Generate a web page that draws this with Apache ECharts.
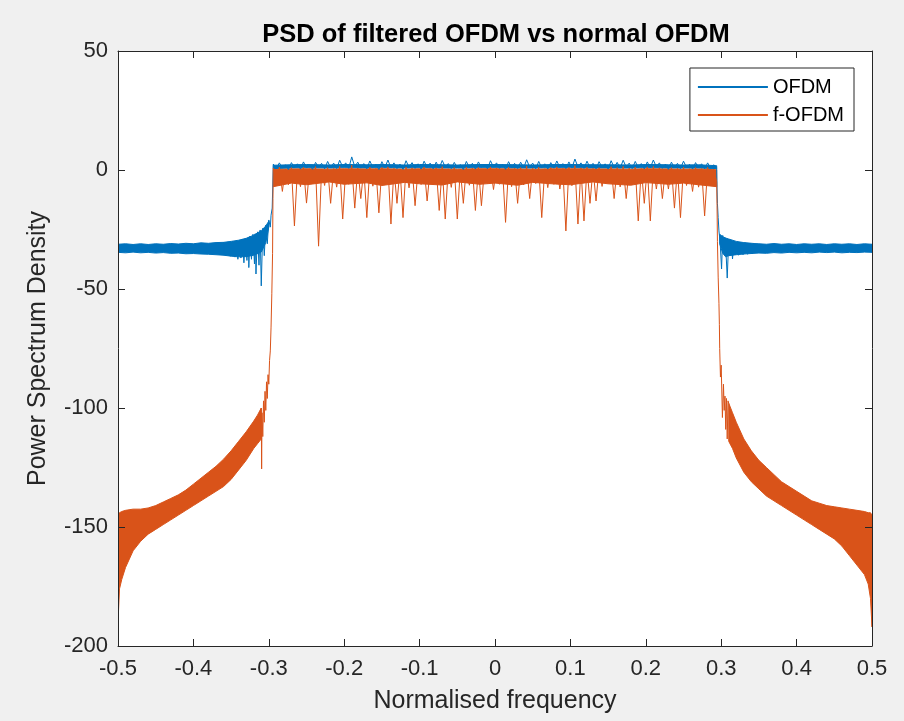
<!DOCTYPE html>
<html>
<head>
<meta charset="utf-8">
<script src="https://cdn.jsdelivr.net/npm/echarts@6/dist/echarts.min.js"></script>
<style>
  html, body { margin: 0; padding: 0; background: #f0f0f0; }
  #chart { width: 904px; height: 721px; }
</style>
</head>
<body>
<div id="chart"></div>
<script>
// x ticks / y ticks
const xTicks = [-0.5, -0.4, -0.3, -0.2, -0.1, 0, 0.1, 0.2, 0.3, 0.4, 0.5]
const yTicks = [-200, -150, -100, -50, 0, 50]

// passband grid (normalised frequency), one value every 0.004
const passStart = -0.294
const passStep = 0.004

// OFDM passband
const ofdmPass = [
  2.5, 0.5, 3.0, 0.8, 2.2, 0.2, 3.1, 1.0, 2.6, 0.4,
  3.4, 0.9, 2.0, 0.3, 3.2, 1.2, 2.8, 0.5, 3.6, 1.0,
  2.9, 0.6, 4.1, 1.3, 3.0, 0.7, 5.5, 1.4, 3.3, 0.8,
  2.7, 0.5, 3.8, 1.1, 2.4, 0.2, 3.5, 1.0, 4.2, 0.9,
  3.0, 0.6, 2.5, 0.3, 3.9, 1.2, 3.1, 0.7, 2.6, 0.4,
  3.7, 1.1, 2.9, 0.5, 3.3, 0.8, 4.0, 1.3, 2.7, 0.6,
  3.2, 0.9, 2.3, 0.2, 3.6, 1.0, 2.8, 0.4, 3.4, 1.1,
  2.5, 0.5, 3.9, 1.2, 3.0, 0.7, 2.4, 0.3, 3.5, 1.0,
  2.8, 0.6, 3.3, 0.9, 4.3, 1.2, 2.9, 0.5, 3.6, 1.0,
  2.6, 0.4, 3.1, 0.8, 3.8, 1.1, 2.7, 0.6, 3.4, 0.9,
  4.6, 1.3, 3.0, 0.7, 3.7, 1.0, 2.8, 0.5, 3.5, 1.2,
  2.6, 0.4, 3.9, 1.1, 3.2, 0.8, 4.1, 1.2, 2.9, 0.6,
  3.6, 1.0, 2.7, 0.5, 3.4, 0.9, 4.2, 1.3, 3.0, 0.7,
  2.5, 0.3, 3.3, 0.9, 2.8, 0.6, 3.7, 1.1, 2.4, 0.4,
  3.1, 0.8, 2.6, 0.5, 3.0, 0.7, 2.2, 1.0
]

// f-OFDM passband
const fofdmPass = [
  0.8, -5.5, 1.2, -9.0, 0.4, -6.2, 1.0, -23.5, 0.2, -7.0,
  1.1, -13.9, 0.5, -5.8, 1.4, -32.0, 0.3, -6.5, 1.0, -14.0,
  0.6, -7.2, 1.5, -20.6, 0.2, -6.0, 2.0, -16.0, 0.8, -12.0,
  0.4, -20.0, 1.2, -6.8, 0.6, -18.0, 1.1, -5.4, 1.3, -22.7,
  0.7, -14.0, 0.3, -20.0, 1.2, -7.5, 0.9, -15.0, 0.4, -6.1,
  1.3, -13.0, 0.6, -5.9, 0.9, -17.0, 1.4, -20.6, 0.5, -7.3,
  1.0, -20.6, 0.2, -14.0, 1.2, -6.4, 0.8, -17.0, 1.1, -15.0,
  0.4, -5.6, 1.3, -8.2, 0.9, -6.0, 0.3, -22.0, 1.2, -7.0,
  0.7, -14.0, 1.0, -6.3, 1.6, -12.0, 0.8, -5.7, 1.2, -20.0,
  0.5, -7.4, 1.0, -6.0, 1.3, -8.0, 0.6, -25.6, 1.1, -6.6,
  1.8, -22.7, 0.9, -21.4, 1.2, -14.0, 0.7, -13.0, 1.0, -6.9,
  0.4, -5.5, 1.4, -12.0, 1.0, -7.1, 1.5, -12.0, 0.8, -6.2,
  1.2, -21.4, 0.6, -14.0, 1.3, -21.4, 1.5, -8.0, 0.9, -12.0,
  0.3, -8.0, 1.0, -16.0, 0.7, -20.0, 1.2, -6.5, 0.5, -9.0,
  1.0, -7.2, 0.6, -19.3, 1.1, -6.0, 0.4, -5.0
]

// dense cores of the passband traces (upper / lower envelope)
const coreFreq = [-0.294, -0.27, -0.25, -0.22, -0.2, -0.17, -0.15, -0.12, -0.1, -0.07, -0.05, -0.02, 0, 0.03, 0.05, 0.08, 0.1, 0.13, 0.15, 0.18, 0.2, 0.23, 0.25, 0.27, 0.294]
const ofdmCoreHi = [2.0, 2.2, 2.3, 2.1, 2.3, 2.2, 2.3, 2.1, 2.3, 2.2, 2.1, 2.3, 2.3, 2.2, 2.1, 2.3, 2.3, 2.2, 2.2, 2.1, 2.3, 2.2, 2.1, 2.2, 1.8]
const ofdmCoreLo = [0.6, 0.8, 0.9, 0.8, 0.9, 0.8, 0.9, 0.8, 0.9, 0.8, 0.8, 0.9, 0.9, 0.8, 0.8, 0.9, 0.9, 0.8, 0.8, 0.8, 0.9, 0.8, 0.8, 0.8, 0.6]
const fofdmCoreHi = [0.2, 0.4, 0.5, 0.3, 0.5, 0.4, 0.5, 0.3, 0.5, 0.4, 0.3, 0.5, 0.5, 0.4, 0.3, 0.5, 0.5, 0.4, 0.4, 0.3, 0.5, 0.4, 0.3, 0.4, 0.1]
const fofdmCoreLo = [-7.0, -5.5, -6.2, -5.0, -6.0, -5.4, -6.5, -5.2, -5.8, -6.3, -5.0, -6.0, -5.5, -6.4, -5.2, -5.9, -6.2, -5.0, -5.8, -6.4, -5.3, -6.0, -5.5, -6.2, -7.0]

// OFDM transition ripples [freq, dB]
const ofdmEdgeLeft = [
  [-0.36, -30.4], [-0.357, -35.8], [-0.354, -30.2], [-0.351, -36.2], [-0.348, -30.0],
  [-0.345, -36.6], [-0.343, -29.8], [-0.341, -37.5], [-0.339, -29.4], [-0.337, -37.0],
  [-0.335, -29.0], [-0.333, -39.0], [-0.331, -28.6], [-0.329, -38.0], [-0.327, -28.2],
  [-0.3265, -41.0], [-0.325, -27.8], [-0.323, -37.5], [-0.321, -27.0], [-0.319, -39.5],
  [-0.318, -26.8], [-0.317, -43.7], [-0.315, -26.0], [-0.313, -40.0], [-0.3115, -25.2],
  [-0.310, -48.7], [-0.308, -24.5], [-0.306, -36.0], [-0.304, -23.2], [-0.302, -31.0],
  [-0.300, -21.0], [-0.298, -24.0], [-0.297, -19.0], [-0.2955, -16.0]
]
const ofdmEdgeRight = [
  [0.2945, -8], [0.295, -14], [0.296, -20], [0.297, -25.6], [0.2985, -30],
  [0.3005, -41.6], [0.302, -27.5], [0.304, -35], [0.3055, -28.5], [0.308, -45.4],
  [0.310, -29], [0.312, -36], [0.3135, -29.5], [0.315, -37.4], [0.317, -30],
  [0.319, -35.5], [0.321, -30.2], [0.323, -35.8], [0.326, -30.4], [0.329, -35.6],
  [0.332, -30.6], [0.335, -35.4], [0.338, -30.7], [0.341, -35.2], [0.344, -30.9]
]

// OFDM ripple cores next to the band edges
const ofdmRippleLeftFreq = [-0.36, -0.35, -0.34, -0.33, -0.32, -0.31, -0.304, -0.3]
const ofdmRippleLeftHi = [-30.4, -30.0, -29.5, -28.7, -27.4, -25.5, -23.5, -21.5]
const ofdmRippleLeftLo = [-35.8, -36.2, -36.5, -36.4, -35.8, -34.5, -30.5, -24.0]
const ofdmRippleRightFreq = [0.298, 0.302, 0.306, 0.31, 0.32, 0.33, 0.344]
const ofdmRippleRightHi = [-27.0, -28.0, -28.6, -29.0, -30.0, -30.5, -30.9]
const ofdmRippleRightLo = [-31.0, -35.0, -36.5, -36.0, -35.6, -35.3, -35.0]

// OFDM flat stopband (upper / lower envelope)
const ofdmBandLeftFreq = [-0.5, -0.49, -0.48, -0.47, -0.46, -0.45, -0.44, -0.43, -0.42, -0.41, -0.40, -0.39, -0.38, -0.37, -0.36]
const ofdmBandLeftHi = [-31.2, -31.0, -31.3, -31.0, -31.3, -31.0, -31.2, -30.9, -31.1, -30.8, -31.0, -30.6, -30.8, -30.5, -30.4]
const ofdmBandLeftLo = [-34.6, -34.8, -34.5, -34.8, -34.6, -34.9, -34.7, -35.0, -34.9, -35.2, -35.1, -35.3, -35.4, -35.6, -35.8]
const ofdmBandRightFreq = [0.344, 0.35, 0.36, 0.37, 0.38, 0.39, 0.40, 0.41, 0.42, 0.43, 0.44, 0.45, 0.46, 0.47, 0.48, 0.49, 0.5]
const ofdmBandRightHi = [-30.9, -31.0, -31.2, -30.9, -31.2, -31.0, -31.3, -31.0, -31.2, -31.0, -31.3, -31.0, -31.2, -31.0, -31.3, -31.0, -31.2]
const ofdmBandRightLo = [-35.0, -34.9, -35.0, -34.7, -34.9, -34.6, -34.8, -34.6, -34.8, -34.5, -34.7, -34.5, -34.8, -34.6, -34.7, -34.5, -34.6]

// f-OFDM skirts [freq, dB]
const fofdmEdgeLeft = [
  [-0.310, -100], [-0.3095, -125.6], [-0.309, -102], [-0.308, -112], [-0.307, -97],
  [-0.306, -106], [-0.305, -93], [-0.304, -101], [-0.303, -89], [-0.302, -96],
  [-0.301, -86], [-0.300, -90], [-0.299, -80], [-0.298, -76], [-0.297, -66],
  [-0.296, -52], [-0.295, -35], [-0.2945, -12]
]
const fofdmEdgeRight = [
  [0.2945, -15], [0.295, -30], [0.296, -45], [0.297, -56], [0.2976, -65],
  [0.298, -75], [0.299, -87], [0.300, -82], [0.3016, -104], [0.303, -90],
  [0.304, -101], [0.305, -95], [0.306, -109], [0.307, -96], [0.308, -113],
  [0.309, -97], [0.310, -98]
]

// f-OFDM out-of-band tails (upper / lower envelope)
const fofdmBandLeftFreq = [-0.5, -0.498, -0.495, -0.49, -0.48, -0.47, -0.46, -0.45, -0.44, -0.43, -0.42, -0.41, -0.40, -0.39, -0.38, -0.37, -0.36, -0.35, -0.34, -0.33, -0.32, -0.315, -0.31]
const fofdmBandLeftHi = [-144.5, -144, -143.5, -143, -142.5, -142.5, -142, -141, -139.5, -138, -136.5, -134.5, -132, -129.5, -127, -124.5, -121.5, -118, -114, -110, -105.5, -103, -100]
const fofdmBandLeftLo = [-190, -176, -172, -167, -160, -156, -153, -151, -149, -147, -145, -143, -141, -139, -137, -135, -133, -130, -126, -122, -117, -115, -113]
const fofdmBandRightFreq = [0.31, 0.315, 0.32, 0.33, 0.34, 0.35, 0.36, 0.37, 0.38, 0.39, 0.40, 0.41, 0.42, 0.43, 0.44, 0.45, 0.46, 0.47, 0.48, 0.49, 0.495, 0.498, 0.5]
const fofdmBandRightHi = [-98, -102, -106, -113, -118, -122, -125, -128, -131, -133, -135, -137, -139, -140, -141, -141.5, -142, -142.5, -143, -143.5, -144, -144, -145]
const fofdmBandRightLo = [-114, -117, -121, -127, -131, -134, -137, -139, -141, -143, -145, -147, -149, -151, -153, -155, -158, -162, -166, -170, -174, -180, -192]

const BLUE = '#0072BD'
const ORANGE = '#D95319'
const INK = '#262626'
const FONT = '"Liberation Sans", Arial, Helvetica, sans-serif'

const passPairs = vals => vals.map((v, i) => [+(passStart + i * passStep).toFixed(4), v])

const lineSeries = (name, data, color) => ({
  name, type: 'line', data, symbol: 'none', silent: true,
  lineStyle: { color, width: 1 }, itemStyle: { color }
})

// filled band between two envelopes, drawn as one polygon
const bandSeries = (name, freq, hi, lo, color) => ({
  name, type: 'custom', silent: true, clip: true,
  data: freq.map((f, i) => [f, hi[i], lo[i]]),
  encode: { x: 0, y: [1, 2] },
  renderItem: (params, api) => {
    if (params.dataIndex !== 0) return null
    const top = freq.map((f, i) => api.coord([f, hi[i]]))
    const bottom = freq.map((f, i) => api.coord([f, lo[i]])).reverse()
    return {
      type: 'polygon', shape: { points: top.concat(bottom) },
      style: { fill: color, stroke: color, lineWidth: 1 }
    }
  }
})

const ofdmLine = [...ofdmEdgeLeft, ...passPairs(ofdmPass), ...ofdmEdgeRight]
const fofdmLine = [...fofdmEdgeLeft, ...passPairs(fofdmPass), ...fofdmEdgeRight]

const chart = echarts.init(document.getElementById('chart'))

const tickAxis = {
  axisLine: { show: true, onZero: false, lineStyle: { color: INK, width: 1 } },
  axisTick: { show: true, inside: true, length: 7, lineStyle: { color: INK } },
  splitLine: { show: false },
  z: 10
}

chart.setOption({
  animation: false,
  backgroundColor: '#f0f0f0',
  title: {
    text: 'PSD of filtered OFDM vs normal OFDM',
    left: 491, top: 17, textAlign: 'center',
    textStyle: { fontFamily: FONT, fontSize: 25.5, fontWeight: 'bold', color: '#000' }
  },
  legend: {
    data: ['OFDM', 'f-OFDM'],
    orient: 'vertical',
    right: 50, top: 68,
    padding: [9, 10, 6, 7],
    itemGap: 8,
    itemWidth: 70, itemHeight: 20,
    itemStyle: { opacity: 0 },
    backgroundColor: '#fff',
    borderColor: INK, borderWidth: 1, borderRadius: 0,
    textStyle: { fontFamily: FONT, fontSize: 20, color: '#000' }
  },
  grid: {
    left: 118, right: 32, top: 51, bottom: 75,
    show: true, backgroundColor: '#fff', borderWidth: 0
  },
  xAxis: [
    {
      type: 'value', min: xTicks[0], max: xTicks[xTicks.length - 1], interval: 0.1,
      position: 'bottom',
      name: 'Normalised frequency', nameLocation: 'middle', nameGap: 43,
      nameTextStyle: { fontFamily: FONT, fontSize: 25, color: INK },
      axisLabel: { fontFamily: FONT, fontSize: 22, color: INK, margin: 12 },
      ...tickAxis
    },
    {
      type: 'value', min: xTicks[0], max: xTicks[xTicks.length - 1], interval: 0.1,
      position: 'top', axisLabel: { show: false },
      ...tickAxis
    }
  ],
  yAxis: [
    {
      type: 'value', min: yTicks[0], max: yTicks[yTicks.length - 1], interval: 50,
      position: 'left',
      name: 'Power Spectrum Density', nameLocation: 'middle', nameGap: 67,
      nameTextStyle: { fontFamily: FONT, fontSize: 25, color: INK },
      axisLabel: { fontFamily: FONT, fontSize: 22, color: INK, margin: 10 },
      ...tickAxis
    },
    {
      type: 'value', min: yTicks[0], max: yTicks[yTicks.length - 1], interval: 50,
      position: 'right', axisLabel: { show: false },
      ...tickAxis
    }
  ],
  series: [
    lineSeries('OFDM', ofdmLine, BLUE),
    bandSeries('OFDM', ofdmBandLeftFreq, ofdmBandLeftHi, ofdmBandLeftLo, BLUE),
    bandSeries('OFDM', ofdmBandRightFreq, ofdmBandRightHi, ofdmBandRightLo, BLUE),
    bandSeries('OFDM', ofdmRippleLeftFreq, ofdmRippleLeftHi, ofdmRippleLeftLo, BLUE),
    bandSeries('OFDM', ofdmRippleRightFreq, ofdmRippleRightHi, ofdmRippleRightLo, BLUE),
    bandSeries('OFDM', coreFreq, ofdmCoreHi, ofdmCoreLo, BLUE),
    lineSeries('f-OFDM', fofdmLine, ORANGE),
    bandSeries('f-OFDM', coreFreq, fofdmCoreHi, fofdmCoreLo, ORANGE),
    bandSeries('f-OFDM', fofdmBandLeftFreq, fofdmBandLeftHi, fofdmBandLeftLo, ORANGE),
    bandSeries('f-OFDM', fofdmBandRightFreq, fofdmBandRightHi, fofdmBandRightLo, ORANGE)
  ]
})
</script>
</body>
</html>
